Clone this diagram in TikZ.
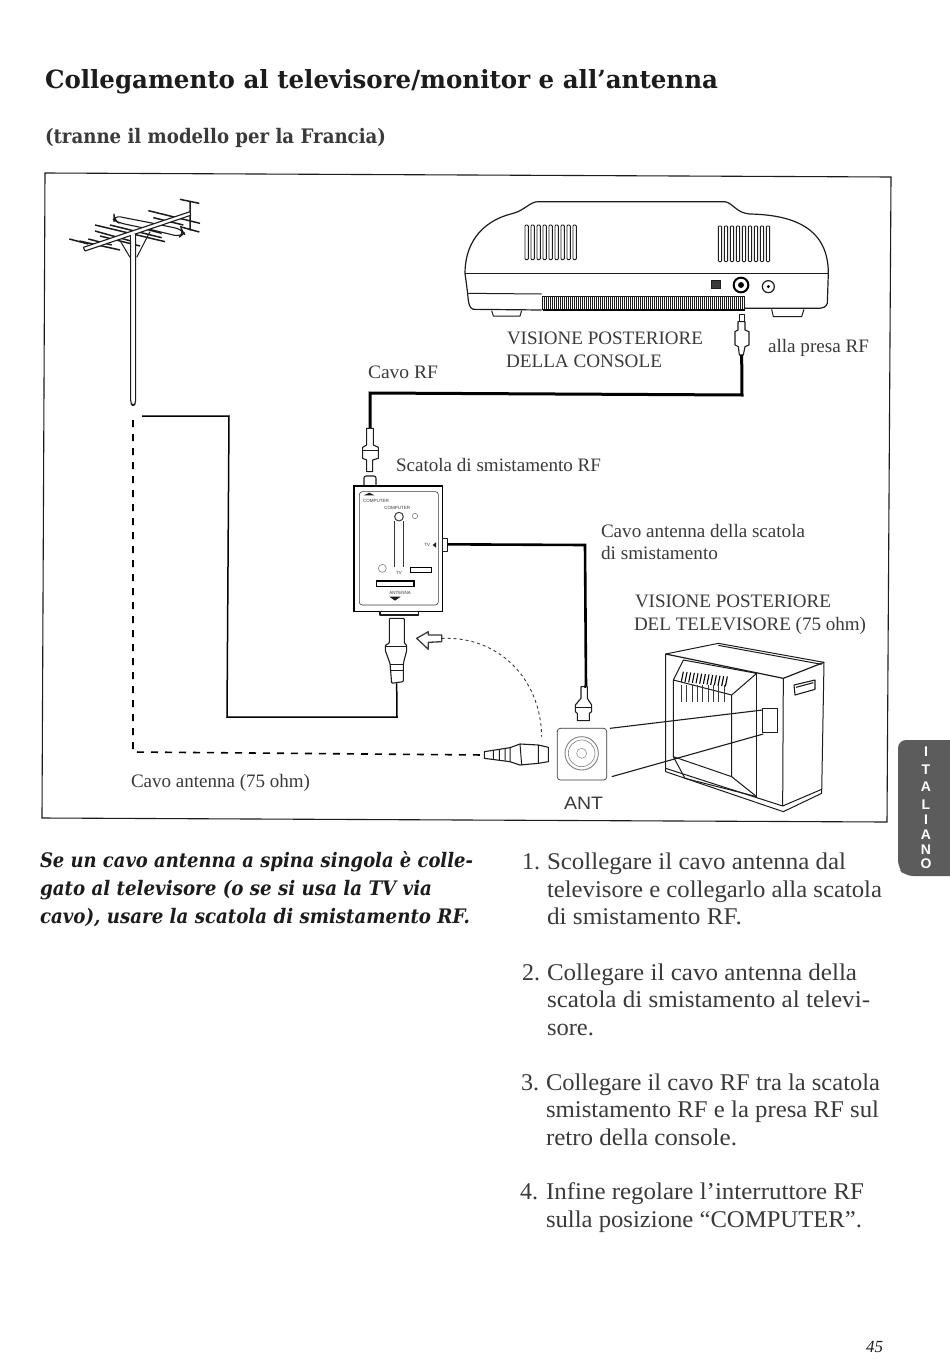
\documentclass[tikz,border=0pt]{standalone}
\usepackage{graphicx}
\usepackage{fontspec}
\setmainfont{Liberation Serif}
\newfontfamily\hdfont{DejaVu Serif}
\newfontfamily\sansf{Liberation Sans}
\newcommand\fitw[2]{\resizebox{#1pt}{\height}{#2}}
\definecolor{ink}{HTML}{1C1C1C}
\definecolor{soft}{HTML}{3A3A3A}
\definecolor{tabgray}{HTML}{5C5C5C}
\tikzset{
  txt/.style={anchor=base west,inner sep=0pt,outer sep=0pt,text=ink},
  head/.style={txt,font=\hdfont\bfseries\fontsize{25}{25}\selectfont},
  subh/.style={txt,font=\hdfont\bfseries\fontsize{20}{20}\selectfont,text=soft},
  ital/.style={txt,font=\hdfont\bfseries\itshape\fontsize{20}{20}\selectfont},
  body/.style={txt,font=\fontsize{24}{24}\selectfont,text=soft},
  lab/.style={txt,font=\fontsize{19}{19}\selectfont,text=soft},
  tiny/.style={anchor=center,inner sep=0pt,font=\sansf\fontsize{4.5}{5}\selectfont,text=soft},
  frameline/.style={draw=ink,line width=1.1pt},
  ln/.style={draw=ink,line width=1pt,line join=round},
  thin/.style={draw=soft,line width=0.6pt,line join=round},
  cable/.style={draw=black,line width=3pt,line join=miter},
  wire/.style={draw=black,line width=1.5pt,line join=miter},
  plugbody/.style={draw=ink,fill=white,line width=1.1pt,line join=round},
  ventslot/.style={draw=ink,fill=white,line width=0.9pt,rounded corners=1pt},
  tabletter/.style={anchor=center,inner sep=0pt,font=\sansf\bfseries\fontsize{14}{14}\selectfont,text=white},
}
\begin{document}
\begin{tikzpicture}[x=1pt,y=-1pt]
\path[use as bounding box,fill=white] (0,0) rectangle (950,1365);

% titles
\node[head] (t1) at (45,88) {\fitw{673}{Collegamento al televisore/monitor e all’antenna}};
\node[subh] (t2) at (45,143) {\fitw{341}{(tranne il modello per la Francia)}};

% frame
\coordinate (fa) at (45,173); \coordinate (fb) at (891,177);
\coordinate (fc) at (887,822); \coordinate (fd) at (42,818);
\draw[frameline] (fa) -- (fb) -- (fc) -- (fd) -- cycle;

% antenna
\begin{scope}[shift={(40,170)},scale=1/3]
  \draw[ln,line width=1.5pt] (88,207)--(145,222) (118,213)--(240,240) (145,207)--(215,225)
    (165,165)--(375,215) (165,183)--(280,215) (180,198)--(300,228) (210,165)--(365,203)
    (325,122)--(480,160) (340,143)--(430,165) (320,178)--(365,190)
    (420,88)--(478,100) (450,95)--(450,182) (420,170)--(478,186);
  \draw[plugbody,rounded corners=6pt] (222,137)--(340,160)--(425,178)--(432,190)--(420,200)--(330,178)--(235,158)--(222,150)--cycle;
  \draw[plugbody] (130,232)--(450,125)--(452,136)--(135,243)--cycle;
  \draw[ln] (242,215)--(270,262) (330,185)--(290,262);
  \draw[plugbody,rounded corners=3pt] (272,195)--(272,700)--(279,708)--(287,700)--(287,195);
  \fill[white] (273,193) rectangle (286,212);
\end{scope}

% console
\begin{scope}[shift={(450,190)},scale=1/3]
  \draw[ln,line width=1.2pt] (45,250) .. controls (45,170) and (85,95) .. (190,70)
    .. controls (225,60) and (240,35) .. (265,35) -- (825,35)
    .. controls (850,40) and (860,70) .. (900,72)
    .. controls (1040,75) and (1135,120) .. (1135,250)
    -- (1132,340) .. controls (1128,350) and (1120,355) .. (1110,355)
    -- (885,355) (275,360) -- (70,358) .. controls (58,355) and (55,340) .. (53,310) -- (45,250);
  \draw[ln,line width=1.2pt] (45,250) -- (1135,250);
  \draw[ln] (55,310) -- (275,312);
  \foreach \x in {225,243,...,385} \draw[ventslot] (\x,105) rectangle ++(10,104);
  \foreach \x in {805,823,...,955} \draw[ventslot] (\x,108) rectangle ++(10,107);
  \foreach \x in {278,284,...,885} \draw[draw=ink,line width=0.85pt] (\x,318) -- (\x,360);
  \draw[ink,line width=1pt] (278,318) -- (885,318);
  \draw[black,line width=1.8pt] (278,360) -- (885,360);
  \draw[ln] (125,362) -- (130,378) -- (210,378) -- (215,362);
  \draw[ln] (965,358) -- (970,380) -- (1055,380) -- (1062,358);
  \draw[ink,fill=soft,line width=0.5pt] (783,272) rectangle (810,295);
  \draw[black,line width=2pt] (873,285) circle (22);
  \draw[black,fill=black] (873,285) circle (8);
  \draw[ink,line width=1.2pt] (955,290) circle (18);
  \fill[black] (955,290) circle (5);
  \draw[ln] (868,372) rectangle (882,395);
  \draw[plugbody] (864,395)--(885,395)--(885,420)--(897,425)--(897,465)--(885,470)--(880,495)--(868,495)--(865,470)--(855,465)--(855,425)--(864,420)--cycle;
  \coordinate (consoleplug) at (875,495);
\end{scope}

% RF cable console -> splitter
\coordinate (rfa) at (742,395); \coordinate (rfb) at (370,393);
\coordinate (rfc) at (370,428);
\draw[cable] (consoleplug) -- (rfa) -- (rfb) -- (rfc);

% splitter box
\begin{scope}[shift={(340,410)},scale=1/3]
  \draw[plugbody] (80,55)--(100,55)--(100,105)--(115,112)--(115,145)--(98,150)--(98,185)--(80,185)--(80,150)--(68,145)--(68,112)--(80,105)--cycle;
  \draw[ln] (68,122)--(115,122);
  \draw[plugbody,rounded corners=2pt] (72,228)--(72,198)--(108,198)--(108,228);
  \draw[draw=black,fill=white,line width=1.5pt] (42,228) rectangle (308,605);
  \draw[thin,rounded corners=3pt] (58,245) rectangle (295,585);
  \fill[ink] (72,256)--(88,248)--(104,256)--cycle;
  \node[tiny] (lc1) at (108,273) {COMPUTER};
  \node[tiny] (lc2) at (172,293) {COMPUTER};
  \draw[thin,line width=1pt] (177,320) circle (13);
  \draw[thin,draw=gray] (225,318) circle (8);
  \draw[thin] (163,333) -- (163,470) (190,333) -- (190,470);
  \draw[thin,draw=gray] (127,475) circle (12);
  \node[tiny] (ltv) at (177,490) {TV};
  \draw[black,fill=white,line width=1.3pt] (212,472) rectangle (275,488);
  \draw[black,fill=white,line width=1.3pt] (110,513) rectangle (222,530);
  \node[tiny] (lant) at (180,550) {ANTENNA};
  \fill[ink] (148,560)--(182,560)--(165,572)--cycle;
  \node[tiny] (ltv2) at (262,405) {TV};
  \fill[ink] (278,405)--(288,397)--(288,413)--cycle;
  \draw[plugbody] (308,385) rectangle (323,425);
  \coordinate (boxright) at (323,403);
  \draw[plugbody] (120,605) rectangle (235,615);
  % lower plug
  \draw[plugbody,rounded corners=1pt] (148,625)--(193,625)--(193,700)--(200,705)--(200,722)--(190,760)--(190,815)--(155,820)--(150,760)--(136,722)--(136,705)--(148,700)--cycle;
  \draw[ln] (137,710)--(200,710) (150,762)--(192,762) (152,780)--(190,780);
  \coordinate (lowerplug) at (170,820);
  % hollow arrow
  \draw[draw=soft,fill=white,line width=1.3pt,line join=round] (230,685)--(265,665)--(265,675)--(305,675)--(305,695)--(265,697)--(265,718)--cycle;
  \coordinate (arrowtail) at (305,685);
  % right plug (to ANT)
  \coordinate (antcable) at (738,830);
\end{scope}
\coordinate (wa) at (585,545);
\draw[wire,line width=2.6pt] (boxright) -- (wa) -- (antcable);

% antenna wire from lower plug
\coordinate (wb) at (397,717); \coordinate (wc) at (227,717);
\coordinate (wd) at (229,416); \coordinate (we) at (142,416);
\draw[wire] (lowerplug) -- (wb) -- (wc) -- (wd) -- (we);

% back of TV and ANT
\begin{scope}[shift={(470,630)},scale=1/3]
  % plug above ANT
  \draw[plugbody] (333,170)--(352,170)--(352,205)--(365,225)--(365,245)--(358,250)--(358,272)--(322,272)--(322,250)--(316,245)--(316,225)--(333,205)--cycle;
  \draw[ln] (316,232)--(365,232);
  \coordinate (antplugtop) at (343,170);
  % ANT socket
  \draw[draw=soft,line width=0.7pt,rounded corners=3pt] (262,295) rectangle (410,450);
  \draw[draw=gray,line width=0.9pt] (335,370) circle (50);
  \draw[draw=gray,line width=0.6pt] (335,370) circle (40);
  \draw[draw=gray,line width=0.5pt] (335,370) circle (15);
  % plug from dashed cable
  \draw[plugbody] (43,365)--(120,353)--(150,342)--(205,345)--(235,352)--(235,395)--(205,400)--(150,405)--(120,395)--(43,385)--cycle;
  \draw[ln] (120,353)--(120,395) (150,342)--(155,405) (205,345)--(205,400)
    (70,362)--(70,388) (88,360)--(88,390) (105,357)--(105,392);
  \coordinate (dashplug) at (43,375);
  % TV
  \draw[ln] (587,72)--(745,40)--(1062,97)--(1055,490)--(940,545)--(587,425)--cycle;
  \draw[ln,line width=1.2pt] (587,72)--(940,145)--(1062,97);
  \draw[ln] (745,46)--(1055,103);
  \draw[ln] (940,145)--(938,528)--(587,415);
  \draw[ln] (938,528)--(1055,478);
  \draw[ln] (610,150)--(640,90)--(860,130)--(785,195)--(610,150);
  \draw[ln] (860,130)--(860,500);
  \draw[ln] (610,150)--(610,380)--(785,440);
  \draw[ln] (785,195)--(785,440)--(860,500);
  \draw[ln] (610,380)--(645,445)--(860,500);
  \foreach \x in {640,651,...,772} \draw[draw=black,line width=1.1pt] (\x,125+0.11*\x-70.4) -- ++(-6,30);
  \foreach \x in {634,650,...,762} \draw[draw=soft,line width=0.8pt] (\x,165) -- (\x,215);
  \draw[ln,line width=1.1pt] (972,165)--(1035,150)--(1035,178)--(975,195)--cycle (978,172)--(1030,158);
  % small ANT window on TV
  \draw[ln,fill=white] (878,235) rectangle (922,308);
  \coordinate (wintop) at (878,240); \coordinate (winbot) at (880,312);
  \coordinate (anttr) at (420,295); \coordinate (antbr) at (425,440);
  \draw[ln,line width=1.1pt] (anttr) -- (wintop) (antbr) -- (winbot);
  \coordinate (dasharc) at (215,320);
\end{scope}
\draw[wire,line width=2.6pt] (antcable) -- (antplugtop);

% thin dashed curve
\draw[draw=soft,line width=0.9pt,dash pattern=on 3pt off 3pt] (arrowtail) .. controls (500,636) and (541,680) .. (dasharc);

% dashed antenna cable
\coordinate (da) at (133,420); \coordinate (db) at (133,752);
\draw[draw=black,line width=1.6pt,dash pattern=on 7pt off 7pt] (da) -- (db) -- (dashplug);

% labels in the diagram
\node[lab] (l1) at (507,344) {\fitw{196}{VISIONE POSTERIORE}};
\node[lab] (l2) at (506,367) {\fitw{156}{DELLA CONSOLE}};
\node[lab] (l3) at (768,352) {\fitw{101}{alla presa RF}};
\node[lab] (l4) at (368,378) {\fitw{70}{Cavo RF}};
\node[lab] (l5) at (396,471) {\fitw{205}{Scatola di smistamento RF}};
\node[lab] (l6) at (601,537) {\fitw{204}{Cavo antenna della scatola}};
\node[lab] (l7) at (601,559) {\fitw{117}{di smistamento}};
\node[lab] (l8) at (635,607) {\fitw{196}{VISIONE POSTERIORE}};
\node[lab] (l9) at (634,630) {\fitw{232}{DEL TELEVISORE (75 ohm)}};
\node[lab] (l10) at (131,787) {\fitw{179}{Cavo antenna (75 ohm)}};
\node[lab,font=\sansf\fontsize{18}{18}\selectfont] (l11) at (564,809) {\fitw{39}{ANT}};

% italic note
\node[ital] (n1) at (40,867) {\fitw{433}{Se un cavo antenna a spina singola è colle-}};
\node[ital] (n2) at (40,895) {\fitw{392}{gato al televisore (o se si usa la TV via}};
\node[ital] (n3) at (40,923) {\fitw{430}{cavo), usare la scatola di smistamento RF.}};

% list
\node[body] (a0) at (522,869) {1.};
\node[body] (a1) at (547,869) {\fitw{299}{Scollegare il cavo antenna dal}};
\node[body] (a2) at (547,897) {\fitw{335}{televisore e collegarlo alla scatola}};
\node[body] (a3) at (547,924) {\fitw{195}{di smistamento RF.}};
\node[body] (b0) at (522,980) {2.};
\node[body] (b1) at (547,980) {\fitw{310}{Collegare il cavo antenna della}};
\node[body] (b2) at (547,1007) {\fitw{323}{scatola di smistamento al televi-}};
\node[body] (b3) at (547,1035) {\fitw{47}{sore.}};
\node[body] (c0) at (521,1090) {3.};
\node[body] (c1) at (546,1090) {\fitw{334}{Collegare il cavo RF tra la scatola}};
\node[body] (c2) at (546,1117) {\fitw{333}{smistamento RF e la presa RF sul}};
\node[body] (c3) at (546,1145) {\fitw{191}{retro della console.}};
\node[body] (d0) at (520,1199) {4.};
\node[body] (d1) at (546,1199) {\fitw{318}{Infine regolare l’interruttore RF}};
\node[body] (d2) at (546,1227) {\fitw{316}{sulla posizione “COMPUTER”.}};

% page number
\node[txt,font=\itshape\fontsize{17}{17}\selectfont] (pg) at (866,1352) {45};

% thumb tab
\fill[tabgray,rounded corners=8pt] (898,740) -- (960,740) -- (960,876) -- (905,876) -- (898,868) -- cycle;
\node[tabletter] (i1) at (926,752) {I};
\node[tabletter] (i2) at (926,770) {T};
\node[tabletter] (i3) at (926,787) {A};
\node[tabletter] (i4) at (926,805) {L};
\node[tabletter] (i5) at (926,820) {I};
\node[tabletter] (i6) at (926,835) {A};
\node[tabletter] (i7) at (926,850) {N};
\node[tabletter] (i8) at (926,864) {O};
\end{tikzpicture}
\end{document}
